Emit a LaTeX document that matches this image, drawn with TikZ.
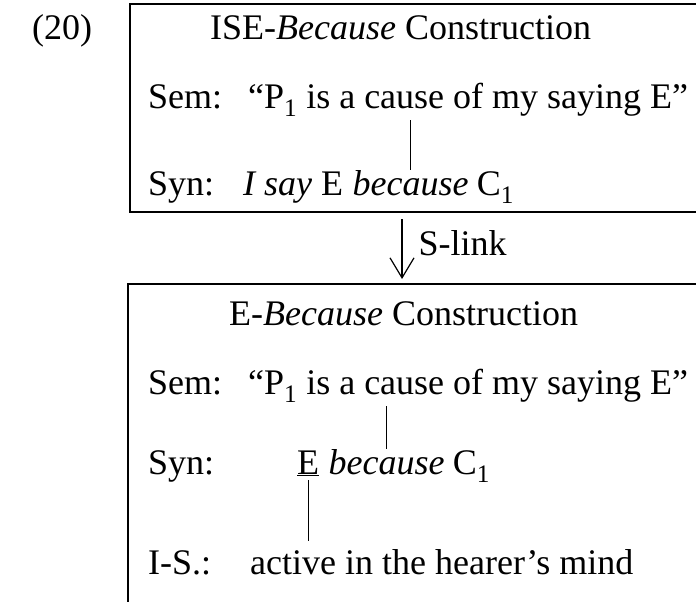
\documentclass[tikz,border=0pt]{standalone}
\usepackage{fontspec}
\setmainfont{Liberation Serif}
\usetikzlibrary{positioning,arrows.meta}

\begin{document}
\begin{tikzpicture}[x=1pt, y=-1pt,
      txt/.style={inner sep=0pt, anchor=base west, font=\fontsize{36}{43}\selectfont},
      frame/.style={line width=1.3pt},
      link/.style={line width=1.2pt, shorten <=4pt}]
    \useasboundingbox (0,0) rectangle (696,602);
    \node[txt] (ex) at (32,40) {(20)};
    % ISE-Because construction
    \draw[frame] (698,4) -| (130,212) -- (698,212);
    \node[txt] (head1) at (210,40) {ISE-\textit{Because} Construction};
    \node[txt] (sem1l) at (148,108) {Sem:};
    \node[txt] (sem1) at (248,108) {“P\textsubscript{1} is a cause of my saying E”};
    \node[txt] (syn1l) at (148,195) {Syn:};
    \node[txt] (syn1) at (243,195) {\textit{I say} E};
    \node[txt, base right=9pt of syn1] (bec1) {\textit{because}};
    \node[txt, base right=8pt of bec1] (c1) {C\textsubscript{1}};
    \draw[link] (bec1.north |- sem1.south) -- (bec1.north);
    % S-link
    \coordinate (out1) at (402,212);
    \coordinate (in2) at (402,284);
    \draw[line width=1.2pt, shorten <=7pt, shorten >=5pt,
          -{Straight Barb[length=20pt,width=24pt]}] (out1) -- (in2)
      node[txt, pos=0.6, xshift=16pt] (slink) {S-link};
    % E-Because construction
    \draw[frame] (698,284) -| (128,602);
    \node[txt] (head2) at (229,325) {E-\textit{Because} Construction};
    \node[txt] (sem2l) at (148,394) {Sem:};
    \node[txt] (sem2) at (248,394) {“P\textsubscript{1} is a cause of my saying E”};
    \node[txt] (syn2l) at (148,474) {Syn:};
    \node[txt] (ee) at (297,474) {\underline{E}};
    \node[txt, base right=9pt of ee] (bec2) {\textit{because}};
    \node[txt, base right=8pt of bec2] (c2) {C\textsubscript{1}};
    \draw[link] (bec2.north |- sem2.south) -- (bec2.north);
    \node[txt] (isl) at (148,574) {I-S.:};
    \node[txt] (is) at (250,574) {active in the hearer’s mind};
    \draw[link, shorten >=8pt] (ee.south) -- (ee.south |- is.north);
\end{tikzpicture}
\end{document}
